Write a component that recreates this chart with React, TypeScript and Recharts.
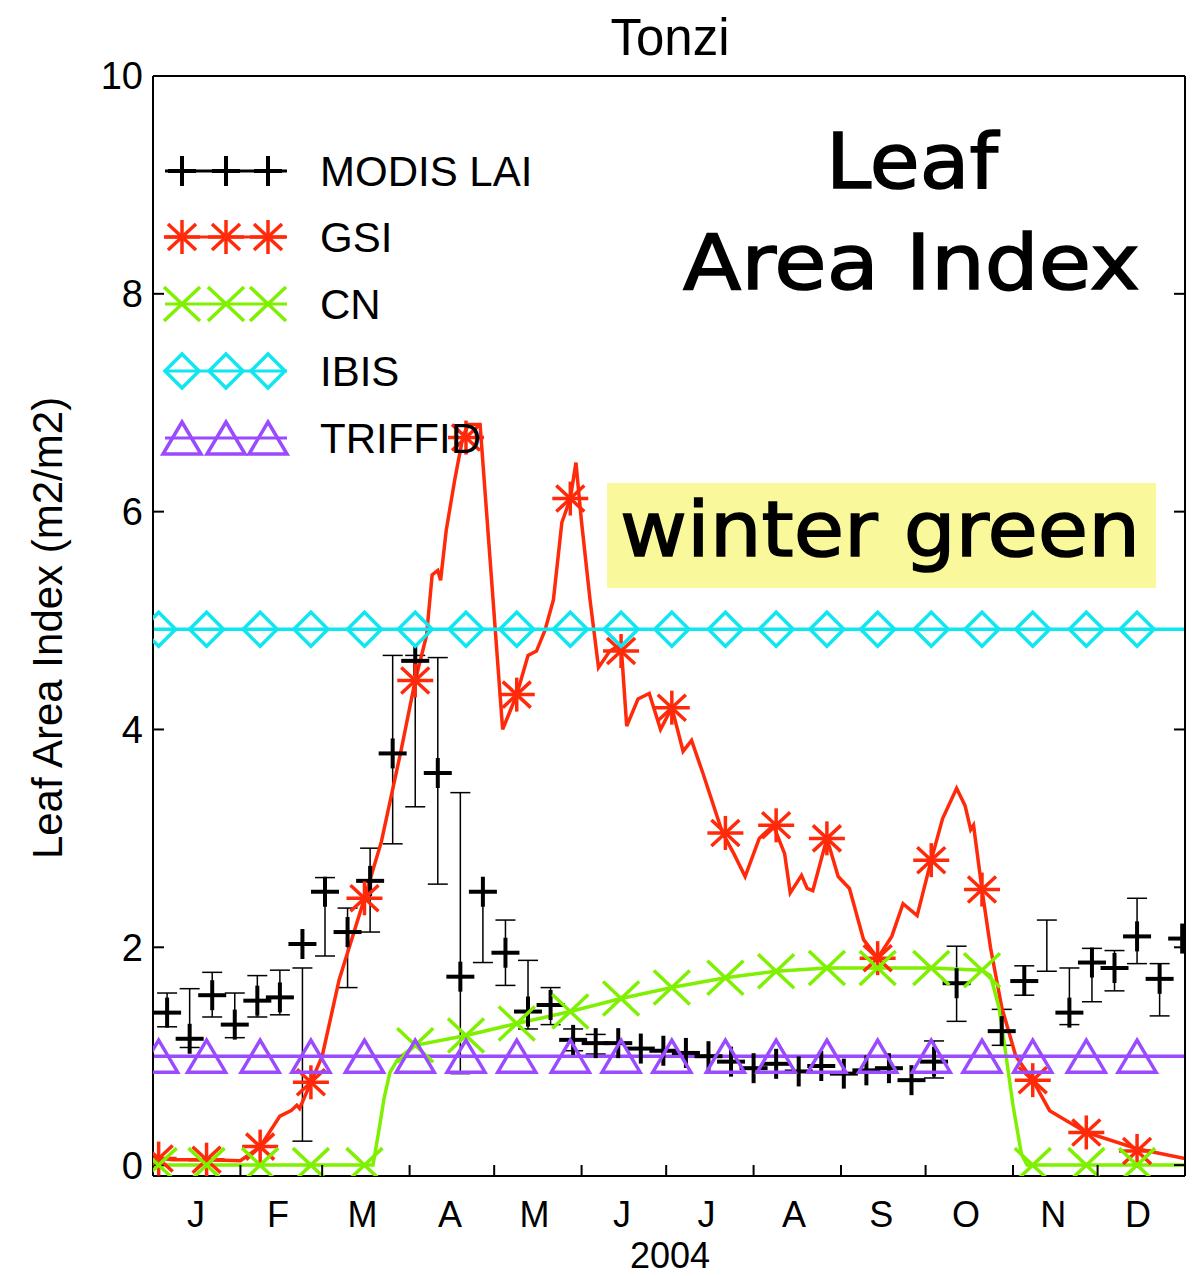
import React from "react";
import { ComposedChart, Line, Scatter, XAxis, YAxis, ErrorBar } from "recharts";

// axis categories
const monthStarts = [31, 60, 91, 121, 152, 182, 213, 244, 274, 305, 335];
const monthMids = [16, 45, 75, 106, 136, 167, 197, 228, 259, 289, 320, 350];
const monthLetters = ["J", "F", "M", "A", "M", "J", "J", "A", "S", "O", "N", "D"];
const yTicks = [0, 2, 4, 6, 8, 10];

// MODIS LAI (8-day composites)
const modisDoy = [5, 13, 21, 29, 37, 45, 53, 61, 69, 77, 85, 93, 101, 109, 117, 125, 133, 141, 149, 157, 165, 173, 181, 189, 197, 205, 213, 221, 229, 237, 245, 253, 261, 269, 277, 285, 301, 309, 325, 333, 341, 349, 357, 365];
const modisLai = [1.4, 1.16, 1.56, 1.29, 1.51, 1.54, 2.03, 2.51, 2.14, 2.61, 3.78, 4.63, 3.6, 1.73, 2.51, 1.95, 1.41, 1.47, 1.15, 1.12, 1.12, 1.07, 1.05, 1.03, 1.0, 0.95, 0.89, 0.93, 0.86, 0.91, 0.84, 0.87, 0.89, 0.78, 0.95, 1.67, 1.23, 1.69, 1.4, 1.86, 1.81, 2.1, 1.71, 2.08];

// MODIS error bars (low / high)
const errDoy = [5, 13, 21, 29, 37, 45, 53, 61, 69, 77, 85, 93, 101, 109, 117, 125, 133, 141, 149, 157, 277, 285, 301, 309, 317, 325, 333, 341, 349, 357];
const errLo = [1.27, 1.08, 1.36, 1.17, 1.36, 1.38, 0.22, 1.92, 1.63, 2.14, 2.95, 3.29, 2.58, 0.84, 1.86, 1.65, 1.25, 1.29, 1.05, 1.02, 0.8, 1.32, 1.1, 1.56, 1.78, 1.29, 1.5, 1.6, 1.85, 1.37];
const errHi = [1.58, 1.62, 1.77, 1.58, 1.74, 1.79, 1.81, 2.64, 2.36, 2.91, 4.68, 4.68, 4.66, 3.42, 2.51, 2.25, 1.88, 1.63, 1.25, 1.2, 1.14, 2.01, 1.43, 1.83, 2.25, 1.81, 1.99, 1.97, 2.45, 1.85];

// GSI model
const gsiDoy = [0, 7, 19, 31, 38, 45, 49, 51, 52, 56, 60, 66, 75, 81, 88, 93, 97, 99, 101, 102, 104, 107, 110, 112, 116, 124, 129, 133, 136, 139, 142, 145, 148, 150, 152, 155, 158, 162, 166, 168, 172, 176, 180, 184, 188, 191, 195, 202, 206, 210, 215, 220, 224, 226, 230, 232, 234, 239, 243, 247, 252, 257, 262, 266, 271, 276, 280, 285, 288, 290, 291, 294, 297, 301, 306, 312, 318, 331, 349, 366];
const gsiLai = [0.07, 0.05, 0.05, 0.04, 0.17, 0.45, 0.5, 0.55, 0.52, 0.76, 1.0, 1.7, 2.45, 2.97, 3.81, 4.45, 4.86, 5.42, 5.46, 5.37, 5.83, 6.29, 6.7, 6.8, 6.8, 4.0, 4.32, 4.68, 4.72, 4.91, 5.19, 5.9, 6.12, 6.45, 5.9, 5.19, 4.57, 4.72, 4.78, 4.03, 4.28, 4.33, 4.0, 4.2, 3.8, 3.9, 3.6, 3.05, 2.86, 2.65, 3.0, 3.12, 2.86, 2.5, 2.66, 2.54, 2.52, 3.0, 2.65, 2.54, 2.07, 1.9, 2.1, 2.4, 2.29, 2.8, 3.18, 3.46, 3.3, 3.08, 3.12, 2.53, 2.0, 1.45, 1.0, 0.78, 0.5, 0.3, 0.15, 0.06];

// CN model
const cnDoy = [0, 78, 80, 82, 84, 87, 93, 111, 129, 148, 166, 184, 203, 221, 239, 257, 276, 294, 297, 300, 302, 305, 308, 310, 366];
const cnLai = [0, 0, 0.3, 0.62, 0.85, 0.98, 1.1, 1.19, 1.3, 1.41, 1.53, 1.63, 1.72, 1.78, 1.81, 1.81, 1.81, 1.79, 1.74, 1.45, 1.1, 0.55, 0.1, 0, 0];

// model markers
const markDoy = [2, 19, 38, 56, 75, 93, 111, 129, 148, 166, 184, 203, 221, 239, 257, 276, 294, 312, 331, 349];
const gsiMark = [0.06, 0.05, 0.17, 0.76, 2.45, 4.45, 6.68, 4.32, 6.12, 4.72, 4.2, 3.05, 3.12, 3.0, 1.9, 2.8, 2.53, 0.78, 0.3, 0.13];
const cnMark = [0, 0, 0, 0, 0, 1.1, 1.19, 1.3, 1.41, 1.53, 1.63, 1.72, 1.78, 1.81, 1.81, 1.81, 1.79, 0, 0, 0];

// constant models
const ibisLai = 4.92;
const triffidLai = 1.0;

const RED = "#ff2a0a";
const GREEN = "#7ff000";
const CYAN = "#10e6f0";
const PURPLE = "#9a4bff";
const FONT = "'Liberation Sans', Arial, Helvetica, sans-serif";

type Pt = { doy: number; v: number; e?: number };
const zip = (d: number[], v: number[]): Pt[] => d.map((x, i) => ({ doy: x, v: v[i] }));

const modisData = zip(modisDoy, modisLai);
const errData: Pt[] = errDoy.map((d, i) => ({ doy: d, v: (errLo[i] + errHi[i]) / 2, e: (errHi[i] - errLo[i]) / 2 }));
const gsiData = zip(gsiDoy, gsiLai);
const cnData = zip(cnDoy, cnLai);
const gsiMarkData = zip(markDoy, gsiMark);
const cnMarkData = zip(markDoy, cnMark);
const ibisLine = zip([0, 366], [ibisLai, ibisLai]);
const ibisMarkData = markDoy.map((d) => ({ doy: d, v: ibisLai }));
const triffidLine = zip([0, 366], [triffidLai, triffidLai]);
const triffidMarkData = markDoy.map((d) => ({ doy: d, v: triffidLai }));
const bottomTicks = [...monthStarts, ...monthMids].sort((a, b) => a - b);

// marker glyphs
const Cross = ({ cx, cy }: any) => (
  <g stroke="#000" strokeWidth={4}>
    <line x1={cx - 14} x2={cx + 14} y1={cy} y2={cy} />
    <line x1={cx} x2={cx} y1={cy - 15} y2={cy + 15} />
  </g>
);
const Star = ({ cx, cy }: any) => (
  <g stroke={RED} strokeWidth={3.5}>
    <line x1={cx - 18} x2={cx + 18} y1={cy} y2={cy} />
    <line x1={cx} x2={cx} y1={cy - 17} y2={cy + 17} />
    <line x1={cx - 14} x2={cx + 14} y1={cy - 13} y2={cy + 13} />
    <line x1={cx - 14} x2={cx + 14} y1={cy + 13} y2={cy - 13} />
  </g>
);
const XMark = ({ cx, cy }: any) => (
  <g stroke={GREEN} strokeWidth={3.5}>
    <line x1={cx - 18} x2={cx + 18} y1={cy - 17} y2={cy + 17} />
    <line x1={cx - 18} x2={cx + 18} y1={cy + 17} y2={cy - 17} />
  </g>
);
const Diamond = ({ cx, cy }: any) => (
  <polygon points={`${cx},${cy - 17} ${cx + 17},${cy} ${cx},${cy + 17} ${cx - 17},${cy}`} fill="none" stroke={CYAN} strokeWidth={3.5} />
);
const Triangle = ({ cx, cy }: any) => (
  <polygon points={`${cx},${cy - 16} ${cx + 19},${cy + 16} ${cx - 19},${cy + 16}`} fill="none" stroke={PURPLE} strokeWidth={3.5} />
);
const Nothing = () => <g />;

function MonthTick(props: any) {
  const { x, y, payload } = props;
  const i = monthMids.indexOf(payload.value);
  if (i < 0) return <line x1={x} x2={x} y1={y} y2={y - 11} stroke="#000" strokeWidth={2} />;
  return (
    <text x={x - 2} y={y + 51} textAnchor="middle" fontSize={36} fill="#000" fontFamily={FONT}>
      {monthLetters[i]}
    </text>
  );
}

const legendRows = [
  { name: "MODIS LAI", color: "#000", y: 171, Mark: Cross },
  { name: "GSI", color: RED, y: 237, Mark: Star },
  { name: "CN", color: GREEN, y: 304, Mark: XMark },
  { name: "IBIS", color: CYAN, y: 371, Mark: Diamond },
  { name: "TRIFFID", color: PURPLE, y: 438, Mark: Triangle },
];

const axisStyle = { stroke: "#000", strokeWidth: 2 };

export default function App() {
  return (
    <div style={{ position: "absolute", left: 0, top: 0, width: 1198, height: 1276, background: "#fff" }}>
      <ComposedChart width={1198} height={1276} margin={{ top: 66, right: 3, bottom: 0, left: 53 }} style={{ fontFamily: FONT }}>
        <XAxis xAxisId="b" dataKey="doy" type="number" domain={[0, 366]} allowDataOverflow ticks={bottomTicks} interval={0}
          tick={<MonthTick />} tickLine={false} tickSize={0} tickMargin={0} height={100} axisLine={axisStyle} />
        <XAxis xAxisId="t" orientation="top" type="number" domain={[0, 366]} allowDataOverflow ticks={monthStarts} interval={0}
          tick={<Nothing />} tickSize={-11} tickLine={axisStyle} height={10} axisLine={axisStyle} />
        <YAxis yAxisId="l" type="number" domain={[-0.1, 10]} allowDataOverflow ticks={yTicks} interval={0} width={100}
          tickSize={-11} tickMargin={21} tickLine={axisStyle} axisLine={axisStyle}
          tick={{ fontSize: 38, fill: "#000", fontFamily: FONT }} />
        <YAxis yAxisId="r" orientation="right" type="number" domain={[-0.1, 10]} allowDataOverflow ticks={yTicks} interval={0} width={10}
          tickSize={-11} tick={<Nothing />} tickLine={axisStyle} axisLine={axisStyle} />

        <Scatter xAxisId="b" yAxisId="l" data={errData} dataKey="v" shape={<Nothing />} isAnimationActive={false}>
          <ErrorBar dataKey="e" direction="y" width={10} stroke="#000" strokeWidth={1.5} />
        </Scatter>
        <Scatter xAxisId="b" yAxisId="l" data={modisData} dataKey="v" shape={<Cross />} isAnimationActive={false} />

        <Line xAxisId="b" yAxisId="l" data={gsiData} dataKey="v" type="linear" stroke={RED} strokeWidth={3.5} dot={false} isAnimationActive={false} />
        <Scatter xAxisId="b" yAxisId="l" data={gsiMarkData} dataKey="v" shape={<Star />} isAnimationActive={false} />

        <Line xAxisId="b" yAxisId="l" data={cnData} dataKey="v" type="linear" stroke={GREEN} strokeWidth={3.5} dot={false} isAnimationActive={false} />
        <Scatter xAxisId="b" yAxisId="l" data={cnMarkData} dataKey="v" shape={<XMark />} isAnimationActive={false} />

        <Line xAxisId="b" yAxisId="l" data={ibisLine} dataKey="v" type="linear" stroke={CYAN} strokeWidth={3.5} dot={false} isAnimationActive={false} />
        <Scatter xAxisId="b" yAxisId="l" data={ibisMarkData} dataKey="v" shape={<Diamond />} isAnimationActive={false} />

        <Line xAxisId="b" yAxisId="l" data={triffidLine} dataKey="v" type="linear" stroke={PURPLE} strokeWidth={3.5} dot={false} isAnimationActive={false} />
        <Scatter xAxisId="b" yAxisId="l" data={triffidMarkData} dataKey="v" shape={<Triangle />} isAnimationActive={false} />
      </ComposedChart>

      <svg width={1198} height={1276} style={{ position: "absolute", left: 0, top: 0, pointerEvents: "none" }}>
        <text x={670} y={55} textAnchor="middle" fontSize={51} fontFamily={FONT} fill="#000">Tonzi</text>
        <text x={670} y={1268} textAnchor="middle" fontSize={36} fontFamily={FONT} fill="#000">2004</text>
        <text x={0} y={0} transform="translate(62,628) rotate(-90)" textAnchor="middle" fontSize={42} fontFamily={FONT} fill="#000">
          Leaf Area Index (m2/m2)
        </text>

        {legendRows.map((r) => (
          <g key={r.name}>
            <line x1={165} x2={287} y1={r.y} y2={r.y} stroke={r.color} strokeWidth={3} />
            <r.Mark cx={182} cy={r.y} />
            <r.Mark cx={226} cy={r.y} />
            <r.Mark cx={268} cy={r.y} />
            <text x={320} y={r.y + 15} fontSize={42} fontFamily={FONT} fill="#000">{r.name}</text>
          </g>
        ))}

        <g fontFamily="'DejaVu Sans', sans-serif" fill="#000" stroke="#000" strokeWidth={1.5}>
          <text x={826} y={188} fontSize={76} textLength={172} lengthAdjust="spacingAndGlyphs">Leaf</text>
          <text x={683} y={289} fontSize={76} textLength={457} lengthAdjust="spacingAndGlyphs">Area Index</text>
          <rect x={607} y={483} width={549} height={105} fill="#f9f99b" stroke="none" />
          <text x={620} y={556} fontSize={76} textLength={520} lengthAdjust="spacingAndGlyphs">winter green</text>
        </g>
      </svg>
    </div>
  );
}
